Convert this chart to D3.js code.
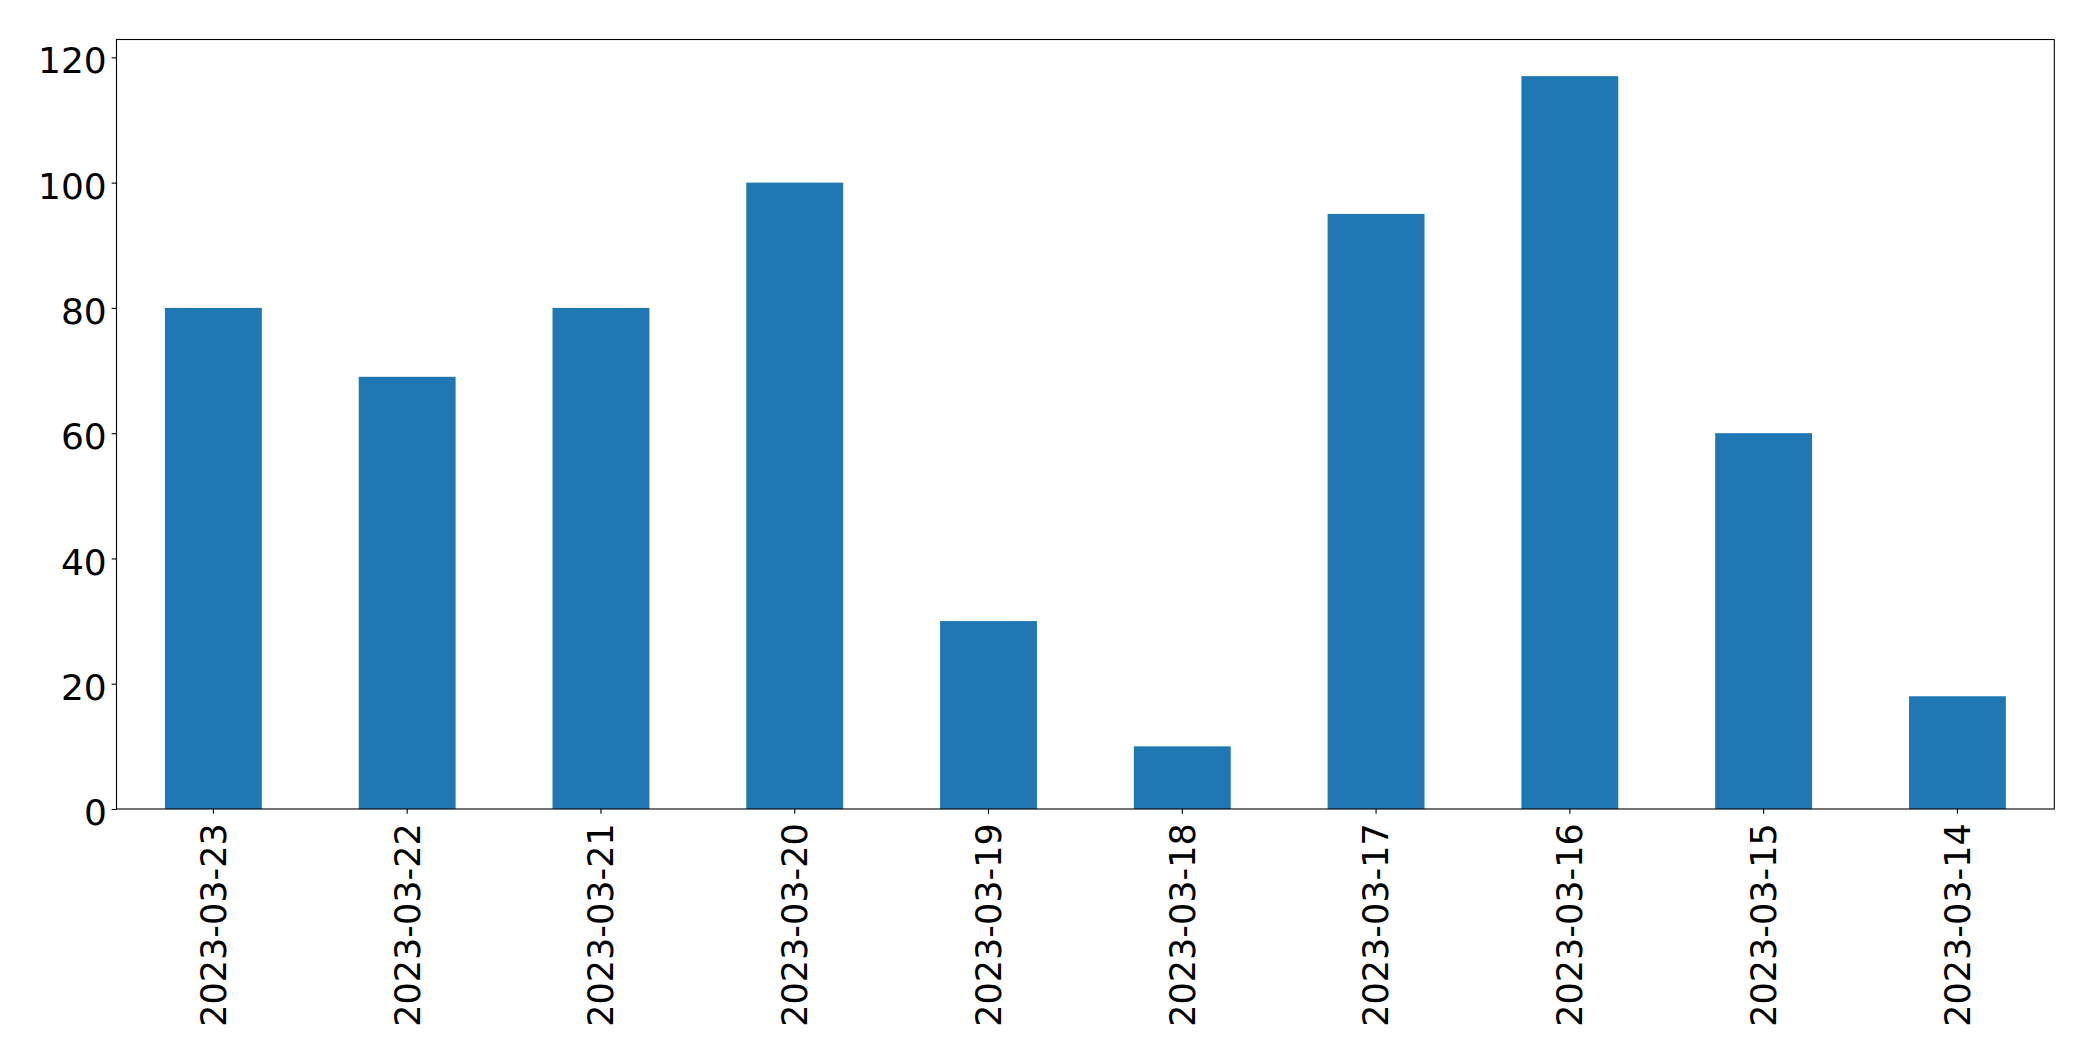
<!DOCTYPE html>
<html>
<head>
<meta charset="utf-8">
<script src="https://cdn.jsdelivr.net/npm/d3@7"></script>
<style>
  html, body { margin: 0; padding: 0; background: #fff; }
  svg { display: block; }
  text { font-family: "DejaVu Sans", sans-serif; fill: #000; }
</style>
</head>
<body>
<svg id="chart" width="2093" height="1061"></svg>
<script>
const categories = ["2023-03-23","2023-03-22","2023-03-21","2023-03-20","2023-03-19","2023-03-18","2023-03-17","2023-03-16","2023-03-15","2023-03-14"];
const values = [80, 69, 80, 100, 30, 10, 95, 117, 60, 18];
const yTicks = [0, 20, 40, 60, 80, 100, 120];

const W = 2093, H = 1061;
const m = { left: 116.5, right: 2054.3, top: 39.5, bottom: 809 };
const fontSize = 36;
const xFontSize = 35;
const tickLen = 4.86, pad = 4.86;

const svg = d3.select("#chart");

const x = d3.scaleBand()
  .domain(categories)
  .range([m.left, m.right])
  .paddingInner(0.5)
  .paddingOuter(0.25);

const yMax = d3.max(values) * 1.05;
const y = d3.scaleLinear().domain([0, yMax]).range([m.bottom, m.top]);

// bars
svg.append("g").selectAll("rect")
  .data(values)
  .join("rect")
  .attr("x", (d, i) => x(categories[i]))
  .attr("width", x.bandwidth())
  .attr("y", d => y(d))
  .attr("height", d => y(0) - y(d))
  .attr("fill", "#1f77b4");

// y axis
const yAxis = d3.axisLeft(y).tickValues(yTicks).tickSize(tickLen).tickPadding(pad).tickFormat(d3.format("d"));
const gy = svg.append("g").attr("transform", `translate(${m.left},0)`).call(yAxis);
gy.select(".domain").remove();
gy.selectAll(".tick line").attr("stroke", "#000").attr("stroke-width", 1.1);
gy.selectAll(".tick text")
  .attr("font-size", fontSize)
  .attr("font-family", "DejaVu Sans")
  .attr("dy", null)
  .attr("y", 15.6)
  .attr("fill", "#000");

// x axis
const xAxis = d3.axisBottom(x).tickSize(tickLen).tickPadding(pad);
const gx = svg.append("g").attr("transform", `translate(0,${m.bottom})`).call(xAxis);
gx.select(".domain").remove();
gx.selectAll(".tick line").attr("stroke", "#000").attr("stroke-width", 1.1);
gx.selectAll(".tick text")
  .attr("font-size", xFontSize)
  .attr("font-family", "DejaVu Sans")
  .attr("dy", null)
  .attr("y", null)
  .attr("text-anchor", "end")
  .attr("transform", `translate(12.4, ${tickLen + pad + 4.6}) rotate(-90)`)
  .attr("fill", "#000");

// spines
svg.append("rect")
  .attr("x", m.left).attr("y", m.top)
  .attr("width", m.right - m.left).attr("height", m.bottom - m.top)
  .attr("fill", "none").attr("stroke", "#000").attr("stroke-width", 1.1);
</script>
</body>
</html>
